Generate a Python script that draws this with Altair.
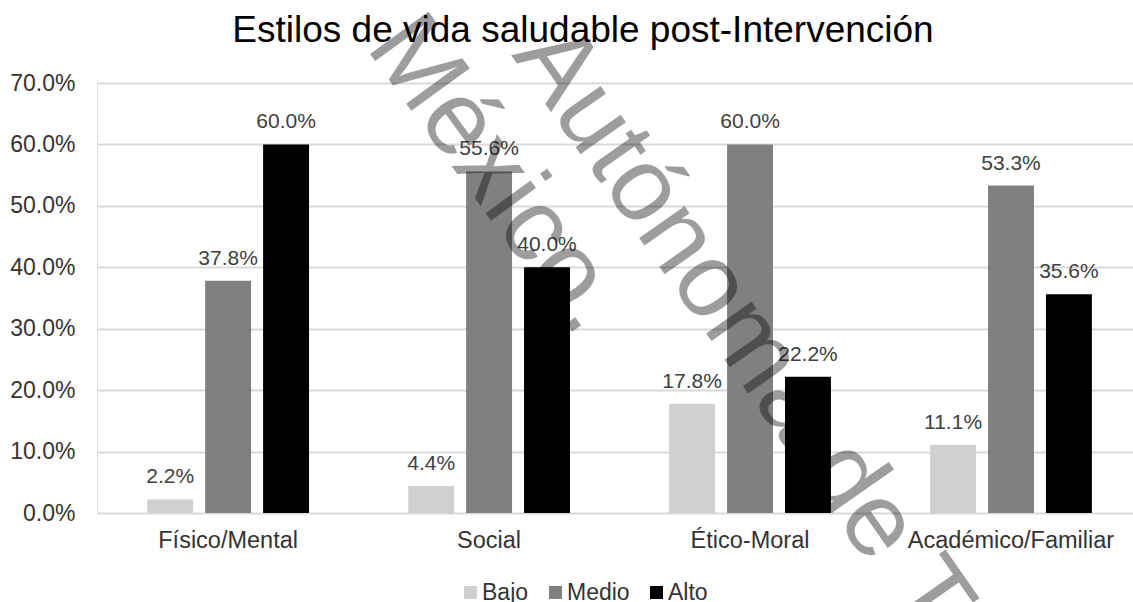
import altair as alt
import pandas as pd

categories = ["Físico/Mental", "Social", "Ético-Moral", "Académico/Familiar"]
levels = ["Bajo", "Medio", "Alto"]
bajo = [0.022, 0.044, 0.178, 0.111]
medio = [0.378, 0.556, 0.600, 0.533]
alto = [0.600, 0.400, 0.222, 0.356]
level_colors = ["#d0d0d0", "#808080", "#000000"]
y_ticks = [0.0, 0.1, 0.2, 0.3, 0.4, 0.5, 0.6, 0.7]
title_text = ["Estilos de vida saludable post-Intervención"]
watermark_lines = ["Autónoma de T", "México."]

rows = []
for i, c in enumerate(categories):
    for lvl, series in zip(levels, [bajo, medio, alto]):
        rows.append({"categoria": c, "nivel": lvl, "valor": series[i]})
df = pd.DataFrame(rows)

FONT = "Liberation Sans"

x = alt.X(
    "categoria:N",
    sort=categories,
    scale=alt.Scale(paddingInner=0.38, paddingOuter=0.175, align=0.55),
    axis=alt.Axis(
        title=None, labelAngle=0, labelFontSize=23.5, labelFont=FONT,
        labelColor="#333333", labelPadding=15, labelLimit=400,
        domain=False, ticks=False, grid=False,
    ),
)
xo = alt.XOffset(
    "nivel:N", sort=levels, scale=alt.Scale(paddingInner=0.207, paddingOuter=0)
)
y = alt.Y(
    "valor:Q",
    scale=alt.Scale(domain=[0, 0.7], nice=False),
    axis=alt.Axis(
        title=None, format=".1%", values=y_ticks, labelFontSize=23,
        labelFont=FONT, labelColor="#333333", labelPadding=22,
        gridColor="#d9d9d9", gridWidth=2, domain=False, ticks=False,
    ),
)

bars = alt.Chart(df).mark_bar().encode(
    x=x,
    xOffset=xo,
    y=y,
    color=alt.Color(
        "nivel:N",
        sort=levels,
        scale=alt.Scale(domain=levels, range=level_colors),
        legend=alt.Legend(
            title=None, orient="none", direction="horizontal",
            legendX=362, legendY=498, symbolType="square", symbolSize=169,
            symbolStrokeWidth=0, labelFontSize=23, labelFont=FONT,
            labelColor="#333333", labelOffset=0, columnPadding=15, padding=0,
            gridAlign="none",
        ),
    ),
)

labels = alt.Chart(df).mark_text(
    dy=-16, baseline="alphabetic", fontSize=21, font=FONT, color="#404040"
).encode(
    x=x, xOffset=xo, y=y, text=alt.Text("valor:Q", format=".1%")
)

title = alt.Chart(pd.DataFrame({"t": title_text})).mark_text(
    fontSize=37, font=FONT, color="#000000", align="center",
    baseline="alphabetic",
).encode(text="t:N", x=alt.value(486), y=alt.value(-41))

wm1 = alt.Chart(pd.DataFrame({"t": [watermark_lines[0]]})).mark_text(
    angle=55, fontSize=105, font=FONT, color="#000000", opacity=0.38,
    align="left", baseline="alphabetic",
).encode(text="t:N", x=alt.value(414), y=alt.value(-28))

wm2 = alt.Chart(pd.DataFrame({"t": [watermark_lines[1]]})).mark_text(
    angle=54, fontSize=105, font=FONT, color="#000000", opacity=0.38,
    align="left", baseline="alphabetic",
).encode(text="t:N", x=alt.value(268), y=alt.value(-36))

chart = (
    alt.layer(bars, labels, title, wm1, wm2)
    .properties(
        width=1036,
        height=430,
        autosize=alt.AutoSizeParams(type="none"),
        padding={"left": 97, "top": 83, "right": 0, "bottom": 89},
    )
    .configure_view(stroke=None)
    .configure(background="white")
)

chart.save("out.html", embed_options={"renderer": "svg", "actions": False})
